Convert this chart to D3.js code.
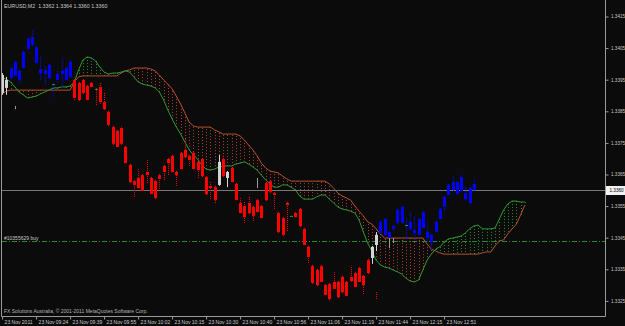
<!DOCTYPE html>
<meta charset="utf-8">
<script src="https://d3js.org/d3.v7.min.js"></script>
<style>
body { margin: 0; background: #0b0b0b; }
text { font-family: "Liberation Sans", Arial, sans-serif; }
</style>
<div id="main"></div>
<script>
// EURUSD M2, 23 Nov 2011
const dateLabels = ["23 Nov 2011", "23 Nov 09:24", "23 Nov 09:39", "23 Nov 09:55", "23 Nov 10:02",
  "23 Nov 10:15", "23 Nov 10:30", "23 Nov 10:40", "23 Nov 10:56", "23 Nov 11:06", "23 Nov 11:19",
  "23 Nov 11:44", "23 Nov 12:15", "23 Nov 12:51"];
const labelBars = [0, 8, 16, 24, 32, 40, 48, 56, 64, 72, 80, 88, 96, 104];
const priceTicks = [1.3325, 1.3335, 1.3345, 1.3355, 1.3365, 1.3375, 1.3385, 1.3395, 1.3405, 1.3415];

const open = [1.33908,1.33924,1.33955,1.33962,1.33949,1.33987,1.34047,1.34060,1.34003,1.33971,
  1.33968,1.33955,1.33936,1.33949,1.33968,1.33949,1.33959,1.33949,1.33940,1.33949,
  1.33930,1.33940,1.33921,1.33927,1.33879,1.33848,1.33800,1.33788,1.33797,1.33737,
  1.33680,1.33629,1.33639,1.33648,1.33658,1.33639,1.33629,1.33648,1.33677,1.33699,
  1.33709,1.33658,1.33718,1.33728,1.33709,1.33718,1.33690,1.33699,1.33642,1.33614,
  1.33610,1.33617,1.33699,1.33639,1.33671,1.33620,1.33560,1.33550,1.33560,1.33547,
  1.33569,1.33550,1.33623,1.33629,1.33591,1.33528,1.33512,1.33560,1.33519,1.33528,
  1.33541,1.33478,1.33421,1.33360,1.33348,1.33360,1.33300,1.33303,1.33310,1.33310,
  1.33326,1.33310,1.33326,1.33338,1.33354,1.33329,1.33379,1.33386,1.33427,1.33465,
  1.33459,1.33449,1.33478,1.33497,1.33497,1.33490,1.33478,1.33465,1.33459,1.33481,
  1.33449,1.33436,1.33468,1.33509,1.33547,1.33585,1.33601,1.33588,1.33598,1.33572,
  1.33560,1.33620];
const high = [1.33971,1.33959,1.33993,1.34009,1.33981,1.34041,1.34082,1.34104,1.34057,1.34022,
  1.33993,1.34000,1.33940,1.33978,1.34016,1.33990,1.34009,1.33952,1.33943,1.33952,
  1.33933,1.33943,1.33924,1.33940,1.33908,1.33851,1.33804,1.33791,1.33802,1.33740,
  1.33683,1.33633,1.33667,1.33652,1.33696,1.33642,1.33633,1.33652,1.33680,1.33702,
  1.33712,1.33661,1.33721,1.33762,1.33712,1.33721,1.33693,1.33702,1.33645,1.33626,
  1.33614,1.33712,1.33709,1.33661,1.33674,1.33623,1.33576,1.33563,1.33579,1.33550,
  1.33572,1.33553,1.33626,1.33633,1.33595,1.33531,1.33515,1.33563,1.33519,1.33531,
  1.33544,1.33481,1.33424,1.33364,1.33351,1.33364,1.33303,1.33307,1.33342,1.33313,
  1.33329,1.33313,1.33357,1.33342,1.33357,1.33332,1.33383,1.33424,1.33468,1.33503,
  1.33512,1.33471,1.33490,1.33541,1.33550,1.33512,1.33528,1.33515,1.33512,1.33534,
  1.33497,1.33462,1.33503,1.33544,1.33582,1.33620,1.33645,1.33629,1.33648,1.33610,
  1.33610,1.33640];
const low = [1.33902,1.33902,1.33949,1.33959,1.33940,1.33984,1.34044,1.34057,1.34000,1.33949,
  1.33933,1.33952,1.33892,1.33943,1.33924,1.33946,1.33955,1.33886,1.33883,1.33905,
  1.33883,1.33924,1.33870,1.33873,1.33854,1.33804,1.33743,1.33734,1.33743,1.33683,
  1.33623,1.33579,1.33604,1.33595,1.33623,1.33585,1.33572,1.33601,1.33633,1.33648,
  1.33655,1.33610,1.33664,1.33702,1.33674,1.33664,1.33639,1.33642,1.33585,1.33569,
  1.33560,1.33614,1.33642,1.33610,1.33623,1.33566,1.33525,1.33497,1.33525,1.33500,
  1.33528,1.33509,1.33566,1.33591,1.33538,1.33465,1.33455,1.33468,1.33519,1.33512,
  1.33484,1.33424,1.33370,1.33303,1.33297,1.33307,1.33266,1.33253,1.33285,1.33259,
  1.33275,1.33262,1.33310,1.33291,1.33307,1.33269,1.33335,1.33367,1.33408,1.33462,
  1.33455,1.33449,1.33474,1.33493,1.33493,1.33443,1.33474,1.33443,1.33455,1.33478,
  1.33436,1.33411,1.33465,1.33506,1.33531,1.33582,1.33598,1.33585,1.33595,1.33569,
  1.33557,1.33600];
const close = [1.33965,1.33949,1.33987,1.34006,1.33978,1.34038,1.34079,1.34085,1.34053,1.33984,
  1.33981,1.33997,1.33936,1.33968,1.33978,1.33987,1.34006,1.33892,1.33886,1.33908,
  1.33886,1.33927,1.33921,1.33879,1.33857,1.33807,1.33747,1.33737,1.33747,1.33686,
  1.33626,1.33617,1.33607,1.33598,1.33648,1.33588,1.33576,1.33636,1.33658,1.33686,
  1.33658,1.33648,1.33667,1.33705,1.33696,1.33667,1.33664,1.33645,1.33588,1.33607,
  1.33569,1.33690,1.33645,1.33658,1.33626,1.33569,1.33528,1.33515,1.33528,1.33519,
  1.33531,1.33512,1.33569,1.33595,1.33585,1.33468,1.33459,1.33553,1.33519,1.33515,
  1.33487,1.33427,1.33389,1.33307,1.33300,1.33310,1.33269,1.33256,1.33288,1.33262,
  1.33278,1.33266,1.33313,1.33294,1.33310,1.33300,1.33338,1.33421,1.33459,1.33500,
  1.33509,1.33468,1.33487,1.33538,1.33547,1.33490,1.33500,1.33474,1.33509,1.33531,
  1.33468,1.33459,1.33500,1.33541,1.33579,1.33617,1.33626,1.33626,1.33642,1.33591,
  1.33607,1.33600];
// candle colour from the indicator: b = blue, r = red, w = plain chart candle
const tone = ("ww" + "b".repeat(15) + "r".repeat(34) + "wrw" + "r".repeat(33) + "ww" + "b".repeat(23)).split("");

// Ichimoku kumo, already shifted forward
const spanA = [1.33955,1.33952,1.33943,1.33927,1.33911,1.33902,1.33892,1.33895,1.33898,1.33905,
  1.33911,1.33917,1.33924,1.33924,1.33927,1.33927,1.33930,1.33943,1.33981,1.34012,
  1.34022,1.34019,1.34009,1.33990,1.33974,1.33968,1.33971,1.33971,1.33974,1.33978,
  1.33974,1.33959,1.33943,1.33936,1.33933,1.33930,1.33924,1.33911,1.33886,1.33854,
  1.33826,1.33800,1.33778,1.33753,1.33728,1.33712,1.33699,1.33680,1.33667,1.33664,
  1.33667,1.33674,1.33677,1.33677,1.33677,1.33683,1.33686,1.33690,1.33683,1.33674,
  1.33664,1.33648,1.33633,1.33620,1.33610,1.33610,1.33617,1.33617,1.33610,1.33601,
  1.33582,1.33572,1.33572,1.33572,1.33579,1.33585,1.33585,1.33572,1.33560,1.33547,
  1.33541,1.33538,1.33534,1.33528,1.33506,1.33468,1.33433,1.33408,1.33379,1.33364,
  1.33357,1.33354,1.33348,1.33342,1.33335,1.33322,1.33313,1.33310,1.33316,1.33348,
  1.33379,1.33398,1.33414,1.33421,1.33436,1.33446,1.33449,1.33452,1.33455,1.33465,
  1.33478,1.33487,1.33490,1.33478,1.33478,1.33478,1.33481,1.33509,1.33538,1.33557,
  1.33566,1.33566,1.33563,1.33563];
const spanB = [1.33905,1.33914,1.33917,1.33917,1.33917,1.33917,1.33917,1.33917,1.33917,1.33917,
  1.33917,1.33917,1.33917,1.33917,1.33917,1.33917,1.33917,1.33943,1.33959,1.33962,
  1.33962,1.33962,1.33962,1.33962,1.33962,1.33962,1.33962,1.33962,1.33971,1.33978,
  1.33981,1.33987,1.33987,1.33987,1.33987,1.33984,1.33978,1.33965,1.33949,1.33936,
  1.33921,1.33898,1.33873,1.33845,1.33816,1.33804,1.33800,1.33800,1.33800,1.33800,
  1.33791,1.33785,1.33778,1.33778,1.33778,1.33778,1.33772,1.33759,1.33743,1.33728,
  1.33709,1.33686,1.33671,1.33661,1.33658,1.33655,1.33645,1.33636,1.33629,1.33629,
  1.33629,1.33629,1.33629,1.33629,1.33629,1.33629,1.33629,1.33620,1.33607,1.33591,
  1.33582,1.33576,1.33569,1.33550,1.33534,1.33519,1.33500,1.33493,1.33478,1.33462,
  1.33449,1.33449,1.33449,1.33449,1.33449,1.33449,1.33449,1.33449,1.33449,1.33449,
  1.33430,1.33414,1.33408,1.33402,1.33398,1.33398,1.33398,1.33398,1.33398,1.33398,
  1.33398,1.33398,1.33398,1.33402,1.33405,1.33405,1.33424,1.33440,1.33443,1.33462,
  1.33478,1.33493,1.33522,1.33553];

// stray bits of the underlying chart peeking out [bar, top, bottom, colour]
const strays = [[3, 1.33867, 1.33857, "#9a9a9a"], [60, 1.33639, 1.33607, "#9a9a9a"],
  [88, 1.33278, 1.33253, "#e01010"], [91, 1.33449, 1.33417, "#9a9a9a"], [92, 1.33449, 1.33433, "#9a9a9a"]];

const lastPrice = 1.3360;
const orderPrice = 1.3344;
const orderText = "#10355629 buy";
const headerText = "EURUSD,M2  1.3362 1.3364 1.3360 1.3360";
const footerText = "FX Solutions Australia, \u00a9 2001-2011 MetaQuotes Software Corp.";

const width = 625, height = 326;
const plot = {left: 2, right: 605, top: 0, bottom: 316};
const small = 4.6;

let svg = d3.select("#main").append("svg")
    .attr("width", width)
    .attr("height", height)
    .style("display", "block");

svg.append("rect").attr("width", width).attr("height", height).attr("fill", "#0b0b0b");

svg.append("clipPath").attr("id", "clip")
  .append("rect")
    .attr("x", plot.left).attr("y", plot.top)
    .attr("width", plot.right - plot.left).attr("height", plot.bottom - plot.top);

let x = d3.scaleLinear().domain([0, 142]).range([2.1, 2.1 + 4.25 * 142]);
let y = d3.scaleLinear().domain([1.3325, 1.3415]).range([300.9, 16.5]);

let chart = svg.append("g").attr("clip-path", "url(#clip)");

// kumo hatch: one dotted vertical per bar
chart.append("g").selectAll("line")
  .data(spanA)
  .enter().append("line")
    .attr("x1", function(d, i) { return Math.round(x(i)) + 0.5; })
    .attr("x2", function(d, i) { return Math.round(x(i)) + 0.5; })
    .attr("y1", function(d) { return y(d); })
    .attr("y2", function(d, i) { return y(spanB[i]); })
    .attr("stroke", function(d, i) { return d >= spanB[i] ? "#2a8a2a" : "#a8402a"; })
    .attr("stroke-width", 1)
    .attr("stroke-dasharray", "1,2");

let lineOf = d3.line().x(function(d, i) { return x(i); }).y(function(d) { return y(d); });

chart.append("path").datum(spanB)
    .attr("d", lineOf)
    .attr("fill", "none")
    .attr("stroke", "#b8502e")
    .attr("stroke-width", 1);

chart.append("path").datum(spanA)
    .attr("d", lineOf)
    .attr("fill", "none")
    .attr("stroke", "#2c9a2c")
    .attr("stroke-width", 1);

// current price and the open order
chart.append("line")
    .attr("x1", plot.left).attr("x2", plot.right)
    .attr("y1", Math.round(y(lastPrice)) + 0.5).attr("y2", Math.round(y(lastPrice)) + 0.5)
    .attr("stroke", "#777");

chart.append("line")
    .attr("x1", plot.left).attr("x2", plot.right)
    .attr("y1", Math.round(y(orderPrice)) + 0.5).attr("y2", Math.round(y(orderPrice)) + 0.5)
    .attr("stroke", "#2a8a2a")
    .attr("stroke-dasharray", "5,2,1,2");

chart.append("text")
    .attr("x", 4).attr("y", Math.round(y(orderPrice)) - 1.5)
    .attr("font-size", 5)
    .attr("fill", "#c8c8c8")
    .text(orderText);

const toneColor = {b: "#0000ff", r: "#ff0000", w: "#d4d4d4"};

let bars = chart.append("g").selectAll("g")
  .data(open.map(function(o, i) { return {i: i, o: o, h: high[i], l: low[i], c: close[i], t: tone[i]}; }))
  .enter().append("g");

bars.append("line")
    .attr("x1", function(d) { return Math.round(x(d.i)) + 0.5; })
    .attr("x2", function(d) { return Math.round(x(d.i)) + 0.5; })
    .attr("y1", function(d) { return y(d.h); })
    .attr("y2", function(d) { return y(d.l); })
    .attr("stroke", function(d) { return toneColor[d.t]; })
    .attr("stroke-dasharray", function(d) { return d.t == "w" ? null : "1,1"; });

bars.append("rect")
    .attr("x", function(d) { return Math.round(x(d.i)) - 1; })
    .attr("width", 3)
    .attr("y", function(d) { return y(Math.max(d.o, d.c)); })
    .attr("height", function(d) { return Math.max(1, y(Math.min(d.o, d.c)) - y(Math.max(d.o, d.c))); })
    .attr("fill", function(d) { return d.o == d.c ? "#3c8c3c" : toneColor[d.t]; });

chart.append("g").selectAll("line")
  .data(strays)
  .enter().append("line")
    .attr("x1", function(d) { return Math.round(x(d[0])) + 0.5; })
    .attr("x2", function(d) { return Math.round(x(d[0])) + 0.5; })
    .attr("y1", function(d) { return y(d[1]); })
    .attr("y2", function(d) { return y(d[2]); })
    .attr("stroke", function(d) { return d[3]; })
    .attr("stroke-dasharray", function(d) { return d[3] == "#e01010" ? "1,1" : null; });

// frame
let frame = svg.append("g").attr("stroke", "#9a9a9a").attr("fill", "none");
frame.append("path")
    .attr("d", "M" + (plot.left - 0.5) + ",0V" + (plot.bottom + 0.5) + "H" + (plot.right + 0.5) + "V0");

// price axis
let yAxis = svg.append("g")
    .attr("transform", "translate(" + (plot.right + 0.5) + ",0)")
    .call(d3.axisRight(y).tickValues(priceTicks).tickSize(3).tickPadding(2.5).tickFormat(d3.format(".4f")));
yAxis.select(".domain").remove();
yAxis.selectAll("line").attr("stroke", "#9a9a9a");
yAxis.selectAll("text").attr("fill", "#c8c8c8").attr("font-size", small).attr("font-family", "Liberation Sans, Arial, sans-serif");

// last price tag
let tag = svg.append("g").attr("transform", "translate(" + (plot.right + 1) + "," + Math.round(y(lastPrice)) + ")");
tag.append("rect").attr("x", 0).attr("y", -4).attr("width", 19).attr("height", 9).attr("fill", "#f2f2f2");
tag.append("text").attr("x", 3.5).attr("y", 2.3).attr("font-size", small).attr("fill", "#000").text(d3.format(".4f")(lastPrice));

// time axis
let xAxis = svg.append("g")
    .attr("transform", "translate(0," + (plot.bottom + 0.5) + ")")
    .call(d3.axisBottom(x).tickValues(labelBars).tickSize(3).tickPadding(1)
      .tickFormat(function(d, k) { return dateLabels[k]; }));
xAxis.select(".domain").remove();
xAxis.selectAll("line").attr("stroke", "#9a9a9a");
xAxis.selectAll("text")
    .attr("text-anchor", "start")
    .attr("dx", 2)
    .attr("fill", "#c8c8c8")
    .attr("font-size", 5)
    .attr("font-family", "Liberation Sans, Arial, sans-serif");

svg.append("text")
    .attr("x", 4).attr("y", 8)
    .attr("font-size", 5.3)
    .attr("fill", "#c8c8c8")
    .attr("xml:space", "preserve")
    .style("white-space", "pre")
    .text(headerText);

svg.append("text")
    .attr("x", 4).attr("y", 313)
    .attr("font-size", 5)
    .attr("fill", "#b4b4b4")
    .text(footerText);
</script>
